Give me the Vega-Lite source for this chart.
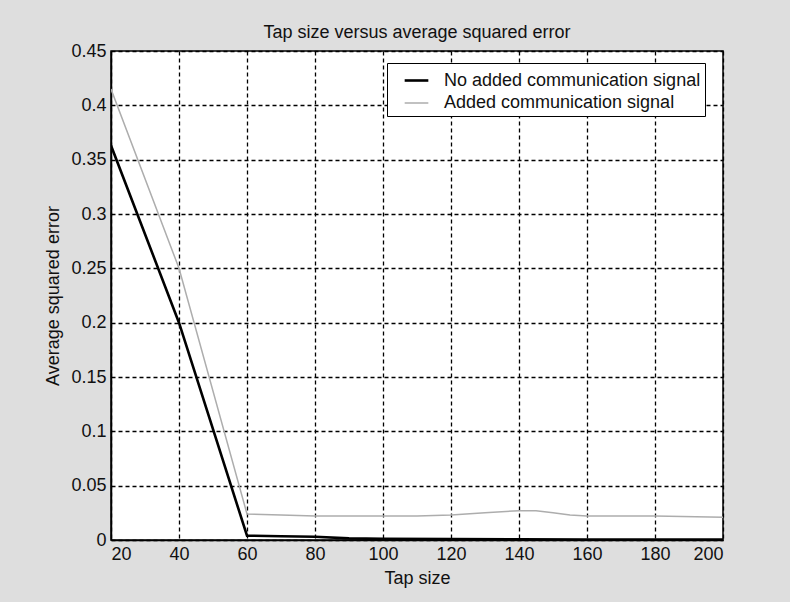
{
  "$schema": "https://vega.github.io/schema/vega-lite/v6.json",
  "width": 612,
  "height": 489,
  "autosize": "none",
  "padding": {"left": 111, "top": 51, "right": 67, "bottom": 62},
  "background": "#dedede",
  "title": {
    "text": "Tap size versus average squared error",
    "font": "Liberation Sans",
    "fontSize": 18,
    "fontWeight": "normal",
    "color": "#111",
    "offset": 0
  },
  "config": {
    "view": {"fill": "white", "stroke": "black", "strokeWidth": 1.5},
    "axis": {
      "labelFont": "Liberation Sans",
      "labelFontSize": 18,
      "labelColor": "#111",
      "titleFont": "Liberation Sans",
      "titleFontSize": 18,
      "titleFontWeight": "normal",
      "titleColor": "#111",
      "domainColor": "black",
      "domainWidth": 1.5,
      "ticks": false,
      "gridColor": "black",
      "gridDash": [4, 3],
      "gridWidth": 1.3,
      "gridOpacity": 1
    }
  },
  "data": {
    "values": [
      {"tap": 20, "err": 0.363, "series": "No added communication signal"},
      {"tap": 40, "err": 0.2, "series": "No added communication signal"},
      {"tap": 60, "err": 0.004, "series": "No added communication signal"},
      {"tap": 70, "err": 0.0035, "series": "No added communication signal"},
      {"tap": 80, "err": 0.003, "series": "No added communication signal"},
      {"tap": 90, "err": 0.0015, "series": "No added communication signal"},
      {"tap": 100, "err": 0.001, "series": "No added communication signal"},
      {"tap": 120, "err": 0.0008, "series": "No added communication signal"},
      {"tap": 140, "err": 0.0006, "series": "No added communication signal"},
      {"tap": 160, "err": 0.0005, "series": "No added communication signal"},
      {"tap": 180, "err": 0.0004, "series": "No added communication signal"},
      {"tap": 200, "err": 0.0004, "series": "No added communication signal"},
      {"tap": 20, "err": 0.415, "series": "Added communication signal"},
      {"tap": 40, "err": 0.25, "series": "Added communication signal"},
      {"tap": 60, "err": 0.024, "series": "Added communication signal"},
      {"tap": 70, "err": 0.023, "series": "Added communication signal"},
      {"tap": 80, "err": 0.022, "series": "Added communication signal"},
      {"tap": 100, "err": 0.022, "series": "Added communication signal"},
      {"tap": 110, "err": 0.022, "series": "Added communication signal"},
      {"tap": 120, "err": 0.023, "series": "Added communication signal"},
      {"tap": 130, "err": 0.025, "series": "Added communication signal"},
      {"tap": 140, "err": 0.027, "series": "Added communication signal"},
      {"tap": 145, "err": 0.027, "series": "Added communication signal"},
      {"tap": 150, "err": 0.025, "series": "Added communication signal"},
      {"tap": 155, "err": 0.023, "series": "Added communication signal"},
      {"tap": 160, "err": 0.022, "series": "Added communication signal"},
      {"tap": 180, "err": 0.022, "series": "Added communication signal"},
      {"tap": 200, "err": 0.021, "series": "Added communication signal"}
    ]
  },
  "mark": {"type": "line", "clip": true},
  "encoding": {
    "x": {
      "field": "tap",
      "type": "quantitative",
      "title": "Tap size",
      "scale": {"domain": [20, 200], "nice": false, "zero": false},
      "axis": {"values": [20, 40, 60, 80, 100, 120, 140, 160, 180, 200], "labelPadding": 5, "titlePadding": 6}
    },
    "y": {
      "field": "err",
      "type": "quantitative",
      "title": "Average squared error",
      "scale": {"domain": [0, 0.45], "nice": false},
      "axis": {"values": [0, 0.05, 0.1, 0.15, 0.2, 0.25, 0.3, 0.35, 0.4, 0.45], "format": ".2~f", "labelPadding": 5, "titlePadding": 8}
    },
    "color": {
      "field": "series",
      "type": "nominal",
      "title": null,
      "scale": {"domain": ["No added communication signal", "Added communication signal"], "range": ["#000000", "#adadad"]},
      "legend": {
        "orient": "none",
        "legendX": 276,
        "legendY": 12,
        "fillColor": "white",
        "strokeColor": "black",
        "padding": 4,
        "rowPadding": 0,
        "labelFont": "Liberation Sans",
        "labelFontSize": 18,
        "labelColor": "#111",
        "labelOffset": 14,
        "symbolOffset": 12,
        "labelLimit": 400,
        "symbolType": "stroke",
        "symbolSize": 560
      }
    },
    "strokeWidth": {
      "field": "series",
      "type": "nominal",
      "title": null,
      "scale": {"domain": ["No added communication signal", "Added communication signal"], "range": [2.6, 1.5]}
    }
  }
}
